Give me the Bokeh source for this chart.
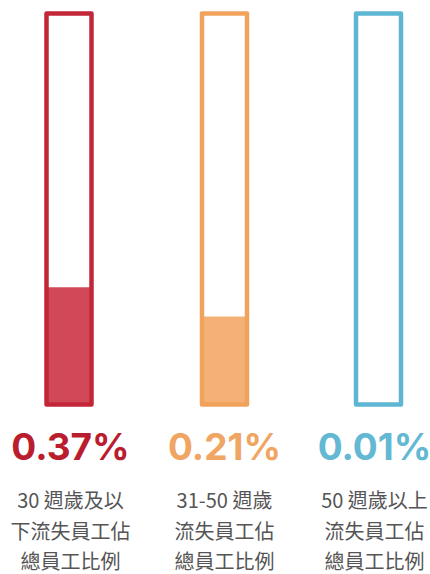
from bokeh.plotting import figure
from bokeh.models import Range1d, ColumnDataSource
from bokeh.core.properties import value
from bokeh.embed import file_html
from bokeh.resources import INLINE

# ---- data ----
groups = ["30 週歲及以下", "31-50 週歲", "50 週歲以上"]
pct_values = [0.37, 0.21, 0.01]
pct_labels = ["0.37%", "0.21%", "0.01%"]
fill_levels = [0.30, 0.225, 0.0]   # visual fill fraction of each tube
label_lines = [
    ["30 週歲及以", "下流失員工佔", "總員工比例"],
    ["31-50 週歲", "流失員工佔", "總員工比例"],
    ["50 週歲以上", "流失員工佔", "總員工比例"],
]
outline_colors = ["#c32638", "#f1a35c", "#5db6d2"]
fill_colors = ["#cf3f50", "#f3ac6e", "#7cc4da"]
text_colors = ["#b91d2e", "#f0a563", "#63b8d3"]

W, H = 430, 574
p = figure(width=W, height=H, output_backend="svg", toolbar_location=None,
           x_range=Range1d(0, W), y_range=Range1d(H, 0), min_border=0,
           outline_line_color=None, background_fill_color="white")
p.axis.visible = False
p.grid.visible = False

bottom_y = 404
top_y = 13
tube_h = bottom_y - top_y
centers = [68.5, 224, 378]
half_w = 22.5

# fills
fsrc = ColumnDataSource(dict(
    left=[c - half_w - 1 for c in centers],
    right=[c + half_w + 1 for c in centers],
    bottom=[bottom_y] * 3,
    top=[bottom_y - f * tube_h for f in fill_levels],
    color=fill_colors,
))
p.quad(left="left", right="right", bottom="bottom", top="top", source=fsrc,
       fill_color="color", line_color=None, fill_alpha=0.95)

# outlines
osrc = ColumnDataSource(dict(
    left=[c - half_w for c in centers],
    right=[c + half_w for c in centers],
    bottom=[bottom_y] * 3,
    top=[top_y] * 3,
    color=outline_colors,
))
p.quad(left="left", right="right", bottom="bottom", top="top", source=osrc,
       fill_color=None, line_color="color", line_width=4.5, line_join="round")

# percentage labels
text_cx = [70, 224, 374]
tsrc = ColumnDataSource(dict(x=text_cx, y=[446] * 3, t=pct_labels, c=text_colors))
p.text(x="x", y="y", text="t", source=tsrc, text_color="c",
       text_font=value("Inter"), text_font_style="bold", text_font_size="37px",
       text_align="center", text_baseline="middle")

# description lines
line_ys = [499, 530, 560]
xs, ys, ts = [], [], []
for i, lines in enumerate(label_lines):
    for j, t in enumerate(lines):
        xs.append(text_cx[i])
        ys.append(line_ys[j])
        ts.append(t)
lsrc = ColumnDataSource(dict(x=xs, y=ys, t=ts))
p.text(x="x", y="y", text="t", source=lsrc, text_color="#555555",
       text_font=value("Noto Sans CJK TC"), text_font_size="20px",
       text_align="center", text_baseline="middle")

open("out.html", "w").write(file_html(p, INLINE))
